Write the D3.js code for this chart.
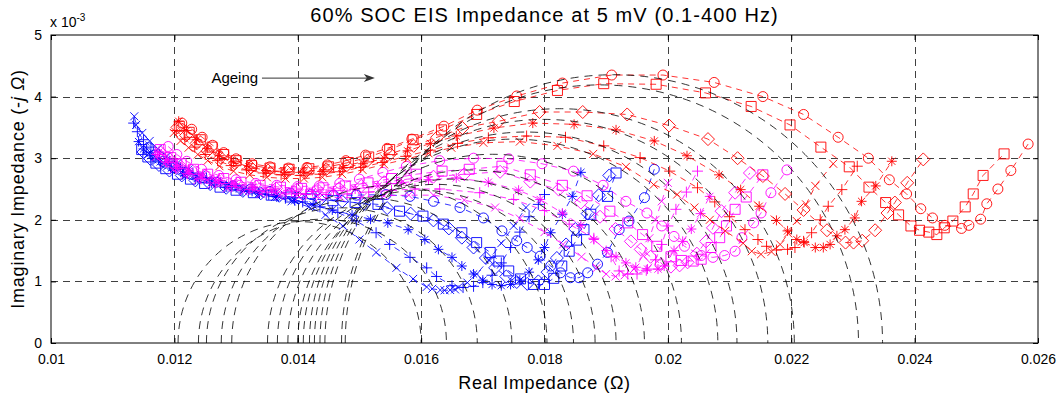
<!DOCTYPE html>
<html>
<head>
<meta charset="utf-8">
<script src="https://cdn.jsdelivr.net/npm/d3@7"></script>
<style>
  body { margin: 0; background: #fff; }
  text { font-family: "Liberation Sans", Arial, Helvetica, sans-serif; fill: #000; }
  .tick text { font-size: 14px; }
</style>
</head>
<body>
<svg id="chart" width="1063" height="397"></svg>
<script>
const title = '60% SOC EIS Impedance at 5 mV (0.1-400 Hz)';
const xTicks = [0.01, 0.012, 0.014, 0.016, 0.018, 0.02, 0.022, 0.024, 0.026];
const xTickLabels = ['0.01', '0.012', '0.014', '0.016', '0.018', '0.02', '0.022', '0.024', '0.026'];
const yTicks = [0, 1, 2, 3, 4, 5];
const yTickLabels = ['0', '1', '2', '3', '4', '5'];

// [real (ohm), imaginary (x 10^-3 ohm)]
const blueX = [[0.01135,3.68],[0.01138,3.54],[0.01148,3.41],[0.0116,3.28],[0.01173,3.15],[0.01188,3.03],[0.01205,2.92],[0.01223,2.82],[0.01243,2.73],[0.01265,2.65],[0.01288,2.57],[0.01312,2.5],[0.01337,2.43],[0.01363,2.37],[0.0139,2.3],[0.01418,2.21],[0.01445,2.08],[0.01473,1.9],[0.015,1.68],[0.01527,1.47],[0.0156,1.22],[0.01587,1.04],[0.01609,0.91],[0.01618,0.88],[0.01631,0.86],[0.01638,0.855],[0.01647,0.86],[0.01655,0.87],[0.0166,0.9],[0.01675,0.98],[0.0169,1.12],[0.0171,1.35],[0.0173,1.62],[0.0175,1.9],[0.0177,2.2]];
const bluePlus = [[0.01134,3.57],[0.0114,3.43],[0.0115,3.3],[0.01162,3.18],[0.01176,3.06],[0.01192,2.95],[0.0121,2.85],[0.0123,2.76],[0.01252,2.68],[0.01275,2.6],[0.013,2.53],[0.01326,2.47],[0.01353,2.41],[0.0138,2.35],[0.01408,2.29],[0.01436,2.21],[0.01465,2.12],[0.01495,1.98],[0.01527,1.79],[0.01549,1.6],[0.01582,1.39],[0.01609,1.22],[0.01625,1.08],[0.0165,0.93],[0.01668,0.9],[0.01685,0.92],[0.017,0.98],[0.01715,1.1],[0.0173,1.3],[0.01745,1.55],[0.0176,1.8],[0.01775,2.05],[0.0179,2.25],[0.018,2.41]];
const blueStar = [[0.01142,3.27],[0.0115,3.15],[0.01162,3.04],[0.01177,2.94],[0.01195,2.84],[0.01215,2.75],[0.01237,2.67],[0.0126,2.6],[0.01285,2.53],[0.01311,2.47],[0.01338,2.42],[0.01366,2.37],[0.01395,2.31],[0.01425,2.24],[0.01456,2.16],[0.01488,2.08],[0.01518,2.01],[0.01546,1.95],[0.01579,1.84],[0.01606,1.68],[0.01628,1.52],[0.0165,1.39],[0.01666,1.25],[0.01685,1.12],[0.017,1.02],[0.01715,0.95],[0.0173,0.93],[0.01745,0.95],[0.0176,1.02],[0.01775,1.15],[0.0179,1.35],[0.018,1.55],[0.0181,1.79],[0.01829,2.09],[0.01845,2.38],[0.01859,2.77]];
const blueSquare = [[0.01147,3.14],[0.01157,3.02],[0.0117,2.92],[0.01186,2.83],[0.01205,2.74],[0.01226,2.66],[0.01249,2.59],[0.01274,2.53],[0.013,2.48],[0.01328,2.44],[0.01357,2.4],[0.01388,2.37],[0.0142,2.34],[0.01457,2.31],[0.01493,2.28],[0.0153,2.25],[0.01565,2.14],[0.01603,2.06],[0.01636,1.93],[0.01666,1.79],[0.0169,1.63],[0.01712,1.47],[0.01726,1.33],[0.01742,1.17],[0.01761,1.04],[0.01782,0.95],[0.018,0.95],[0.01815,1.05],[0.01828,1.25],[0.0184,1.49],[0.01852,1.67],[0.01864,1.84],[0.01875,2.09],[0.01902,2.38],[0.01916,2.76]];
const blueDiamond = [[0.0115,3.1],[0.01161,2.99],[0.01175,2.89],[0.01192,2.8],[0.01212,2.72],[0.01234,2.64],[0.01258,2.58],[0.01284,2.52],[0.01311,2.47],[0.0134,2.43],[0.0137,2.39],[0.01402,2.36],[0.01436,2.33],[0.01472,2.3],[0.01508,2.26],[0.01545,2.19],[0.01583,2.1],[0.0162,1.99],[0.01645,1.86],[0.01666,1.71],[0.01685,1.55],[0.01705,1.38],[0.0172,1.22],[0.01738,1.08],[0.01755,0.99],[0.01772,0.96],[0.0179,1.0],[0.01805,1.15],[0.0182,1.38],[0.01835,1.6],[0.0185,1.85],[0.0187,2.1],[0.01888,2.4],[0.01905,2.72]];
const blueCircle = [[0.01158,3.17],[0.01168,3.05],[0.01182,2.95],[0.012,2.85],[0.0122,2.76],[0.01243,2.68],[0.01268,2.61],[0.01295,2.55],[0.01324,2.5],[0.01355,2.46],[0.01388,2.43],[0.01422,2.41],[0.01458,2.4],[0.01495,2.4],[0.01543,2.41],[0.01582,2.38],[0.0162,2.3],[0.01663,2.2],[0.01701,2.03],[0.01731,1.82],[0.01755,1.66],[0.01772,1.55],[0.01793,1.41],[0.0181,1.25],[0.01826,1.14],[0.01842,1.06],[0.01856,1.06],[0.0187,1.14],[0.01886,1.28],[0.01902,1.47],[0.01921,1.84],[0.01937,1.98],[0.01962,2.36],[0.01978,2.82]];

const magX = [[0.0117,3.02],[0.01183,2.91],[0.01198,2.81],[0.01216,2.72],[0.01237,2.64],[0.0126,2.57],[0.01285,2.51],[0.01312,2.46],[0.0134,2.42],[0.0137,2.39],[0.01402,2.37],[0.01435,2.36],[0.0147,2.36],[0.01505,2.37],[0.0154,2.39],[0.0158,2.4],[0.0162,2.4],[0.0167,2.32],[0.0172,2.2],[0.0176,2.02],[0.018,1.8],[0.0183,1.6],[0.0186,1.4],[0.01885,1.22],[0.019,1.12],[0.01915,1.08],[0.0193,1.1],[0.01945,1.2],[0.0196,1.42],[0.0197,1.7],[0.0198,2.0],[0.0199,2.3],[0.02,2.6]];
const magPlus = [[0.01172,3.06],[0.01186,2.94],[0.01202,2.84],[0.01221,2.75],[0.01243,2.67],[0.01267,2.6],[0.01293,2.54],[0.01321,2.49],[0.0135,2.45],[0.01381,2.42],[0.01413,2.41],[0.01446,2.41],[0.0148,2.42],[0.01515,2.45],[0.01552,2.48],[0.0159,2.5],[0.0163,2.5],[0.01695,2.44],[0.0175,2.33],[0.018,2.15],[0.0184,1.93],[0.0188,1.7],[0.01908,1.4],[0.01921,1.17],[0.01935,1.12],[0.0195,1.12],[0.01965,1.18],[0.0198,1.35],[0.0199,1.6],[0.02,1.9],[0.02013,2.17],[0.0203,2.45],[0.02048,2.79]];
const magStar = [[0.01175,3.1],[0.01189,2.98],[0.01205,2.88],[0.01224,2.79],[0.01246,2.71],[0.01271,2.64],[0.01298,2.58],[0.01327,2.53],[0.01358,2.49],[0.0139,2.47],[0.01424,2.46],[0.01458,2.47],[0.01493,2.5],[0.0153,2.55],[0.01568,2.6],[0.01612,2.65],[0.01657,2.68],[0.01709,2.61],[0.01758,2.48],[0.01793,2.33],[0.01829,2.11],[0.01859,1.91],[0.0188,1.68],[0.019,1.5],[0.01916,1.4],[0.01932,1.3],[0.01948,1.23],[0.01967,1.2],[0.01984,1.2],[0.01994,1.25],[0.0201,1.5],[0.02024,1.65],[0.02038,1.85],[0.02053,2.1],[0.02068,2.38]];
const magDiamond = [[0.01177,3.1],[0.01192,2.99],[0.01208,2.89],[0.01228,2.8],[0.0125,2.72],[0.01275,2.65],[0.01303,2.59],[0.01333,2.54],[0.01365,2.51],[0.01398,2.49],[0.01432,2.49],[0.01467,2.51],[0.01503,2.55],[0.0154,2.61],[0.01578,2.66],[0.0162,2.7],[0.0167,2.74],[0.01728,2.78],[0.01777,2.62],[0.01823,2.49],[0.01859,2.28],[0.0189,2.05],[0.01915,1.85],[0.0194,1.65],[0.01956,1.52],[0.01972,1.4],[0.01989,1.28],[0.02005,1.24],[0.02019,1.26],[0.02032,1.31],[0.02047,1.45],[0.02062,1.65],[0.02073,1.87],[0.02087,2.14],[0.02109,2.44],[0.02133,2.76]];
const magSquare = [[0.01177,3.14],[0.01194,3.01],[0.01211,2.91],[0.01231,2.82],[0.01254,2.74],[0.0128,2.67],[0.01308,2.61],[0.01339,2.56],[0.01372,2.53],[0.01406,2.51],[0.01441,2.52],[0.01477,2.55],[0.01514,2.6],[0.01552,2.67],[0.01592,2.74],[0.01634,2.79],[0.01678,2.82],[0.01731,2.87],[0.01777,2.73],[0.01829,2.56],[0.01869,2.39],[0.01906,2.14],[0.01935,1.95],[0.01959,1.76],[0.01982,1.57],[0.02005,1.4],[0.02022,1.34],[0.02041,1.33],[0.02054,1.36],[0.0207,1.55],[0.02084,1.71],[0.02095,1.9],[0.02109,2.17],[0.02127,2.37],[0.02154,2.73]];
const magCircle = [[0.0119,3.19],[0.01204,3.06],[0.0122,2.95],[0.01244,2.82],[0.01272,2.72],[0.013,2.65],[0.01332,2.59],[0.01366,2.56],[0.014,2.54],[0.01435,2.55],[0.01468,2.59],[0.015,2.66],[0.01538,2.77],[0.01576,2.87],[0.0163,2.96],[0.01685,3.0],[0.01742,2.99],[0.01796,2.91],[0.01847,2.79],[0.01895,2.56],[0.01932,2.3],[0.01966,2.11],[0.0199,1.9],[0.0201,1.73],[0.02027,1.57],[0.02054,1.42],[0.02073,1.39],[0.02092,1.42],[0.02109,1.49],[0.0212,1.71],[0.02139,1.95],[0.02151,2.11],[0.02167,2.44],[0.02193,2.81]];

const redX = [[0.01199,3.41],[0.0121,3.28],[0.01223,3.17],[0.01238,3.06],[0.01254,2.96],[0.01273,2.87],[0.01296,2.79],[0.01322,2.73],[0.0135,2.69],[0.0138,2.67],[0.0141,2.67],[0.0144,2.69],[0.01472,2.74],[0.01505,2.81],[0.0154,2.9],[0.01578,2.99],[0.01612,3.08],[0.01649,3.17],[0.01701,3.25],[0.0176,3.27],[0.01821,3.2],[0.01879,3.07],[0.01932,2.86],[0.01977,2.57],[0.02015,2.41],[0.02043,2.2],[0.02068,2.0],[0.02093,1.82],[0.02122,1.62],[0.02136,1.49],[0.02151,1.44],[0.02168,1.48],[0.02182,1.6],[0.02195,1.78],[0.02209,1.98],[0.02224,2.25],[0.02239,2.55],[0.02268,2.91]];
const redPlus = [[0.01203,3.45],[0.01217,3.31],[0.01233,3.18],[0.0125,3.06],[0.0127,2.96],[0.01292,2.88],[0.01317,2.81],[0.01344,2.76],[0.01373,2.73],[0.01404,2.72],[0.01436,2.74],[0.01468,2.78],[0.01502,2.85],[0.01537,2.93],[0.01575,3.03],[0.01615,3.13],[0.01659,3.24],[0.01709,3.33],[0.01771,3.36],[0.01834,3.34],[0.01896,3.2],[0.01955,3.01],[0.02003,2.79],[0.02048,2.52],[0.02076,2.29],[0.021,2.05],[0.02125,1.84],[0.02146,1.68],[0.0216,1.57],[0.02176,1.51],[0.02194,1.52],[0.02206,1.55],[0.0222,1.65],[0.02233,1.79],[0.02247,2.0],[0.0226,2.22],[0.02282,2.49],[0.02307,2.87]];
const redStar = [[0.01207,3.6],[0.0122,3.45],[0.01236,3.3],[0.01253,3.16],[0.01273,3.04],[0.01296,2.94],[0.01321,2.86],[0.01349,2.8],[0.01379,2.77],[0.0141,2.77],[0.01441,2.79],[0.01473,2.84],[0.01506,2.91],[0.0154,3.0],[0.01578,3.12],[0.01615,3.24],[0.01657,3.36],[0.01718,3.49],[0.01781,3.57],[0.01848,3.55],[0.01916,3.46],[0.01978,3.28],[0.02031,3.04],[0.02083,2.73],[0.02118,2.49],[0.02148,2.22],[0.02176,1.99],[0.02194,1.82],[0.02209,1.68],[0.02221,1.63],[0.02239,1.55],[0.02252,1.55],[0.02263,1.6],[0.02274,1.74],[0.02287,1.84],[0.02303,2.03],[0.02314,2.3],[0.02337,2.55],[0.02363,2.95]];
const redDiamond = [[0.01205,3.5],[0.01219,3.37],[0.01236,3.24],[0.01254,3.12],[0.01275,3.01],[0.01298,2.92],[0.01324,2.85],[0.01352,2.8],[0.01383,2.78],[0.01414,2.79],[0.01446,2.82],[0.01479,2.88],[0.01513,2.96],[0.0155,3.07],[0.01588,3.2],[0.01626,3.34],[0.01667,3.49],[0.01726,3.6],[0.01792,3.75],[0.01862,3.75],[0.01934,3.71],[0.02002,3.53],[0.02065,3.31],[0.02113,3.0],[0.02154,2.71],[0.0219,2.42],[0.0222,2.16],[0.02258,1.83],[0.02288,1.63],[0.02301,1.63],[0.02315,1.66],[0.02336,1.83],[0.02356,2.11],[0.02368,2.28],[0.02388,2.6],[0.02414,2.98]];
const redSquare = [[0.01208,3.52],[0.01224,3.42],[0.01242,3.3],[0.01261,3.18],[0.0128,3.06],[0.013,2.96],[0.01325,2.88],[0.01355,2.84],[0.01386,2.82],[0.01418,2.83],[0.0145,2.86],[0.01482,2.93],[0.01515,3.02],[0.01549,3.14],[0.01587,3.3],[0.01633,3.46],[0.0169,3.71],[0.01751,3.92],[0.01821,4.1],[0.01896,4.21],[0.01981,4.2],[0.02061,4.06],[0.02135,3.84],[0.02198,3.54],[0.02248,3.18],[0.02294,2.86],[0.02326,2.53],[0.02353,2.28],[0.02374,2.08],[0.02394,1.9],[0.02408,1.83],[0.02423,1.8],[0.02436,1.76],[0.02448,1.87],[0.02462,1.98],[0.02482,2.21],[0.02495,2.42],[0.02511,2.72],[0.02545,3.07]];
const redCircle = [[0.01212,3.57],[0.01228,3.47],[0.01245,3.34],[0.01262,3.21],[0.0128,3.09],[0.013,2.99],[0.01326,2.91],[0.01355,2.86],[0.01385,2.84],[0.01415,2.85],[0.01448,2.89],[0.01478,2.96],[0.0151,3.05],[0.01545,3.16],[0.01585,3.31],[0.01637,3.52],[0.01691,3.78],[0.01755,4.01],[0.01829,4.22],[0.01909,4.35],[0.01992,4.35],[0.02075,4.23],[0.02154,4.0],[0.0222,3.71],[0.02276,3.34],[0.02325,3.0],[0.02359,2.65],[0.02387,2.42],[0.0241,2.18],[0.02429,2.03],[0.02449,1.91],[0.02476,1.86],[0.02488,1.91],[0.02507,2.01],[0.02517,2.26],[0.02535,2.5],[0.02556,2.8],[0.02584,3.23]];

// fitted semicircles: where each one meets the real axis
const arcLeft = [0.01206, 0.01239, 0.01252, 0.01276, 0.01293, 0.01351, 0.01367, 0.01384, 0.0140, 0.01409, 0.01419, 0.01427, 0.01436, 0.01444, 0.01471, 0.01477];
const arcRight = [0.0160, 0.01641, 0.01691, 0.01747, 0.01804, 0.01847, 0.01882, 0.01916, 0.01962, 0.02022, 0.02081, 0.02112, 0.02162, 0.02205, 0.02309, 0.02348];

const BLUE = '#0000ff', MAGENTA = '#ff00ff', RED = '#ff0000';
const series = [
  {data: blueX, color: BLUE, marker: 'x'},
  {data: bluePlus, color: BLUE, marker: '+'},
  {data: blueStar, color: BLUE, marker: '*'},
  {data: blueDiamond, color: BLUE, marker: 'd'},
  {data: blueSquare, color: BLUE, marker: 's'},
  {data: blueCircle, color: BLUE, marker: 'o'},
  {data: magX, color: MAGENTA, marker: 'x'},
  {data: magPlus, color: MAGENTA, marker: '+'},
  {data: magStar, color: MAGENTA, marker: '*'},
  {data: magDiamond, color: MAGENTA, marker: 'd'},
  {data: magSquare, color: MAGENTA, marker: 's'},
  {data: magCircle, color: MAGENTA, marker: 'o'},
  {data: redX, color: RED, marker: 'x'},
  {data: redPlus, color: RED, marker: '+'},
  {data: redStar, color: RED, marker: '*'},
  {data: redDiamond, color: RED, marker: 'd'},
  {data: redSquare, color: RED, marker: 's'},
  {data: redCircle, color: RED, marker: 'o'}
];

const plotL = 51, plotR = 1038, plotT = 35, plotB = 343;
const svg = d3.select('#chart');
const x = d3.scaleLinear().domain([0.01, 0.026]).range([plotL, plotR]);
const y = d3.scaleLinear().domain([0, 5]).range([plotB, plotT]);

// grid
const grid = svg.append('g').attr('stroke', '#404040').attr('stroke-width', 1)
  .attr('stroke-dasharray', '7,5').attr('fill', 'none');
grid.selectAll('.gx').data(xTicks.slice(1, -1)).enter().append('line')
  .attr('x1', d => Math.round(x(d)) + 0.5).attr('x2', d => Math.round(x(d)) + 0.5)
  .attr('y1', plotT).attr('y2', plotB);
grid.selectAll('.gy').data(yTicks.slice(1, -1)).enter().append('line')
  .attr('y1', d => Math.round(y(d)) + 0.5).attr('y2', d => Math.round(y(d)) + 0.5)
  .attr('x1', plotL).attr('x2', plotR);

function markerPath(m) {
  if (m === 'x') return 'M-4,-4L4,4M-4,4L4,-4';
  if (m === '+') return 'M-5.5,0H5.5M0,-5.5V5.5';
  if (m === '*') return 'M-5,0H5M0,-5V5M-3.6,-3.6L3.6,3.6M-3.6,3.6L3.6,-3.6';
  if (m === 's') return 'M-5,-5H5V5H-5Z';
  if (m === 'd') return 'M0,-6.5L6.5,0L0,6.5L-6.5,0Z';
  return 'M5,0A5,5 0 1 1 -5,0A5,5 0 1 1 5,0Z';
}

const line = d3.line().x(d => x(d[0])).y(d => y(d[1]));
const sg = svg.append('g').attr('fill', 'none');
series.forEach(s => {
  const g = sg.append('g').attr('stroke', s.color);
  g.append('path').attr('d', line(s.data)).attr('stroke-width', 0.8)
    .attr('stroke-dasharray', '6,5');
  g.selectAll('path.mk').data(s.data).enter().append('path')
    .attr('class', 'mk')
    .attr('transform', d => `translate(${x(d[0])},${y(d[1])})`)
    .attr('d', markerPath(s.marker))
    .attr('stroke-width', 0.9);
});

// black dashed semicircle fits (real and imaginary in the same ohm units)
const arcs = svg.append('g').attr('fill', 'none').attr('stroke', '#000')
  .attr('stroke-width', 0.8).attr('stroke-dasharray', '8,6');
arcLeft.forEach((a, i) => {
  const b = arcRight[i];
  const rad = (b - a) / 2 * 1000;
  const x0 = x(a), x1 = x(b);
  const rx = (x1 - x0) / 2, ry = y(0) - y(rad);
  arcs.append('path').attr('d', `M${x0},${y(0)}A${rx},${ry} 0 0 1 ${x1},${y(0)}`);
});

// axes (ticks inside, box on)
const ax = svg.append('g');
ax.append('g').attr('transform', `translate(0,${plotB})`)
  .call(d3.axisBottom(x).tickValues(xTicks).tickFormat((d, i) => xTickLabels[i]).tickSize(-5).tickPadding(11));
ax.append('g').attr('transform', `translate(${plotL},0)`)
  .call(d3.axisLeft(y).tickValues(yTicks).tickFormat((d, i) => yTickLabels[i]).tickSize(-5).tickPadding(9));
ax.append('g').attr('transform', `translate(0,${plotT})`)
  .call(d3.axisTop(x).tickValues(xTicks).tickFormat('').tickSize(-5));
ax.append('g').attr('transform', `translate(${plotR},0)`)
  .call(d3.axisRight(y).tickValues(yTicks).tickFormat('').tickSize(-5));
ax.selectAll('.domain').remove();
ax.selectAll('.tick line').attr('stroke', '#000');
ax.selectAll('.tick text').attr('fill', '#000');
svg.append('rect').attr('x', plotL).attr('y', plotT).attr('width', plotR - plotL)
  .attr('height', plotB - plotT).attr('fill', 'none').attr('stroke', '#000').attr('stroke-width', 1);

// texts
svg.append('text').attr('x', (plotL + plotR) / 2).attr('y', 22).attr('text-anchor', 'middle')
  .style('font-size', '20px').style('letter-spacing', '1.1px').text(title);
const ex = svg.append('text').attr('x', plotL - 1).attr('y', 27).style('font-size', '14px');
ex.append('tspan').text('x 10');
ex.append('tspan').attr('dy', -6).style('font-size', '10px').text('-3');
svg.append('text').attr('x', (plotL + plotR) / 2).attr('y', 389).attr('text-anchor', 'middle')
  .style('font-size', '18px').style('letter-spacing', '0.6px').text('Real Impedance (\u03a9)');
const yl = svg.append('text').attr('transform', `translate(24,${(plotT + plotB) / 2}) rotate(-90)`)
  .attr('text-anchor', 'middle').style('font-size', '18px').style('letter-spacing', '0.8px');
yl.append('tspan').text('Imaginary Impedance (-');
yl.append('tspan').style('font-style', 'italic').text('j \u03a9');
yl.append('tspan').text(')');

// ageing annotation
const ageX0 = 0.0126, ageX1 = 0.01342, ageX2 = 0.01525, ageY = 4.3;
svg.append('text').attr('x', x(ageX0)).attr('y', y(ageY) + 5).style('font-size', '15px').text('Ageing');
svg.append('line').attr('x1', x(ageX1)).attr('x2', x(ageX2) - 6).attr('y1', y(ageY)).attr('y2', y(ageY))
  .attr('stroke', '#333').attr('stroke-width', 1);
svg.append('path').attr('d', `M${x(ageX2)},${y(ageY)}l-11,-4l3,4l-3,4z`).attr('fill', '#333');
</script>
</body>
</html>
